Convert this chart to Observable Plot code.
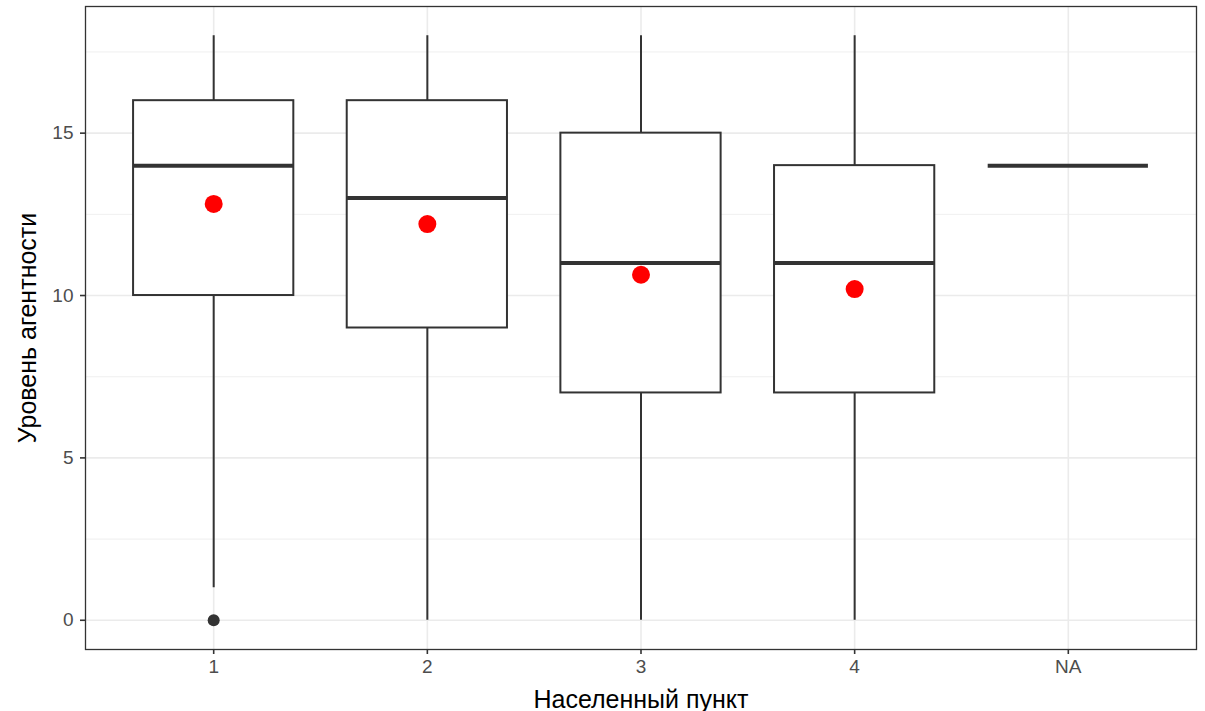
<!DOCTYPE html>
<html>
<head>
<meta charset="utf-8">
<script src="https://cdn.jsdelivr.net/npm/d3@7"></script>
<script src="https://cdn.jsdelivr.net/npm/@observablehq/plot@0.6"></script>
<style>
  html, body { margin: 0; padding: 0; background: #fff; }
  svg { font-family: "Liberation Sans", Arial, sans-serif; }
</style>
</head>
<body>
<div id="chart"></div>
<script>
const categories = ["1", "2", "3", "4", "NA"];
const whiskerLow  = [1, 0, 0, 0, 14];
const q1          = [10, 9, 7, 7, 14];
const medians     = [14, 13, 11, 11, 14];
const q3          = [16, 16, 15, 14, 14];
const whiskerHigh = [18, 18, 18, 18, 14];
const means       = [12.82, 12.2, 10.64, 10.2, null];
const outliers    = [{cat: "1", value: 0}];
const yMajor = [0, 5, 10, 15];
const yMinor = [2.5, 7.5, 12.5, 17.5];

const rows = categories.map((c, i) => ({
  i: i + 1, cat: c, lo: whiskerLow[i], q1: q1[i], med: medians[i], q3: q3[i], hi: whiskerHigh[i], mean: means[i]
}));
const idx = c => categories.indexOf(c) + 1;
const half = 0.375;

const chart = Plot.plot({
  width: 1205,
  height: 711,
  marginLeft: 85,
  marginRight: 9,
  marginTop: 6,
  marginBottom: 62,
  style: {fontFamily: '"Liberation Sans", Arial, sans-serif', background: "#fff"},
  x: {domain: [0.4, 5.6]},
  y: {domain: [-0.9, 18.9]},
  marks: [
    Plot.ruleY(yMinor, {stroke: "#ebebeb", strokeWidth: 0.8}),
    Plot.ruleY(yMajor, {stroke: "#ebebeb", strokeWidth: 1.6}),
    Plot.ruleX(rows, {x: "i", stroke: "#ebebeb", strokeWidth: 1.6}),
    Plot.ruleX(rows, {x: "i", y1: "lo", y2: "q1", stroke: "#333", strokeWidth: 2}),
    Plot.ruleX(rows, {x: "i", y1: "q3", y2: "hi", stroke: "#333", strokeWidth: 2}),
    Plot.rect(rows.filter(d => d.q3 > d.q1), {x1: d => d.i - half, x2: d => d.i + half, y1: "q1", y2: "q3", fill: "#fff", stroke: "#333", strokeWidth: 2}),
    Plot.ruleY(rows, {x1: d => d.i - half, x2: d => d.i + half, y: "med", stroke: "#333", strokeWidth: 4}),
    Plot.dot(outliers, {x: d => idx(d.cat), y: "value", r: 6, fill: "#333", stroke: "none"}),
    Plot.dot(rows.filter(d => d.mean != null), {x: "i", y: "mean", r: 9, fill: "#ff0000", stroke: "none"}),
    Plot.frame({stroke: "#333", strokeWidth: 1.3}),
    Plot.axisX({ticks: [1, 2, 3, 4, 5], tickFormat: d => categories[d - 1], tickSize: 5, tickPadding: 5,
      fontSize: 19, color: "#4d4d4d", stroke: "#333", strokeWidth: 1.6,
      label: "Населенный пункт", labelAnchor: "center", labelArrow: "none", labelOffset: 58}),
    Plot.axisY({ticks: yMajor, tickSize: 5, tickPadding: 7, fontSize: 19, color: "#4d4d4d", stroke: "#333", strokeWidth: 1.6,
      label: "Уровень агентности", labelAnchor: "center", labelArrow: "none", labelOffset: 67})
  ]
});
document.getElementById("chart").appendChild(chart);
chart.querySelectorAll("g[aria-label='x-axis tick label'], g[aria-label='y-axis tick label']").forEach(g => {
  g.setAttribute("font-size", "19");
  g.setAttribute("fill", "#4d4d4d");
});
chart.querySelectorAll("g[aria-label='x-axis label'], g[aria-label='y-axis label']").forEach(g => {
  g.setAttribute("font-size", "25");
  g.setAttribute("fill", "#000");
  g.querySelectorAll("text").forEach(t => t.setAttribute("fill", "#000"));
});
</script>
</body>
</html>
